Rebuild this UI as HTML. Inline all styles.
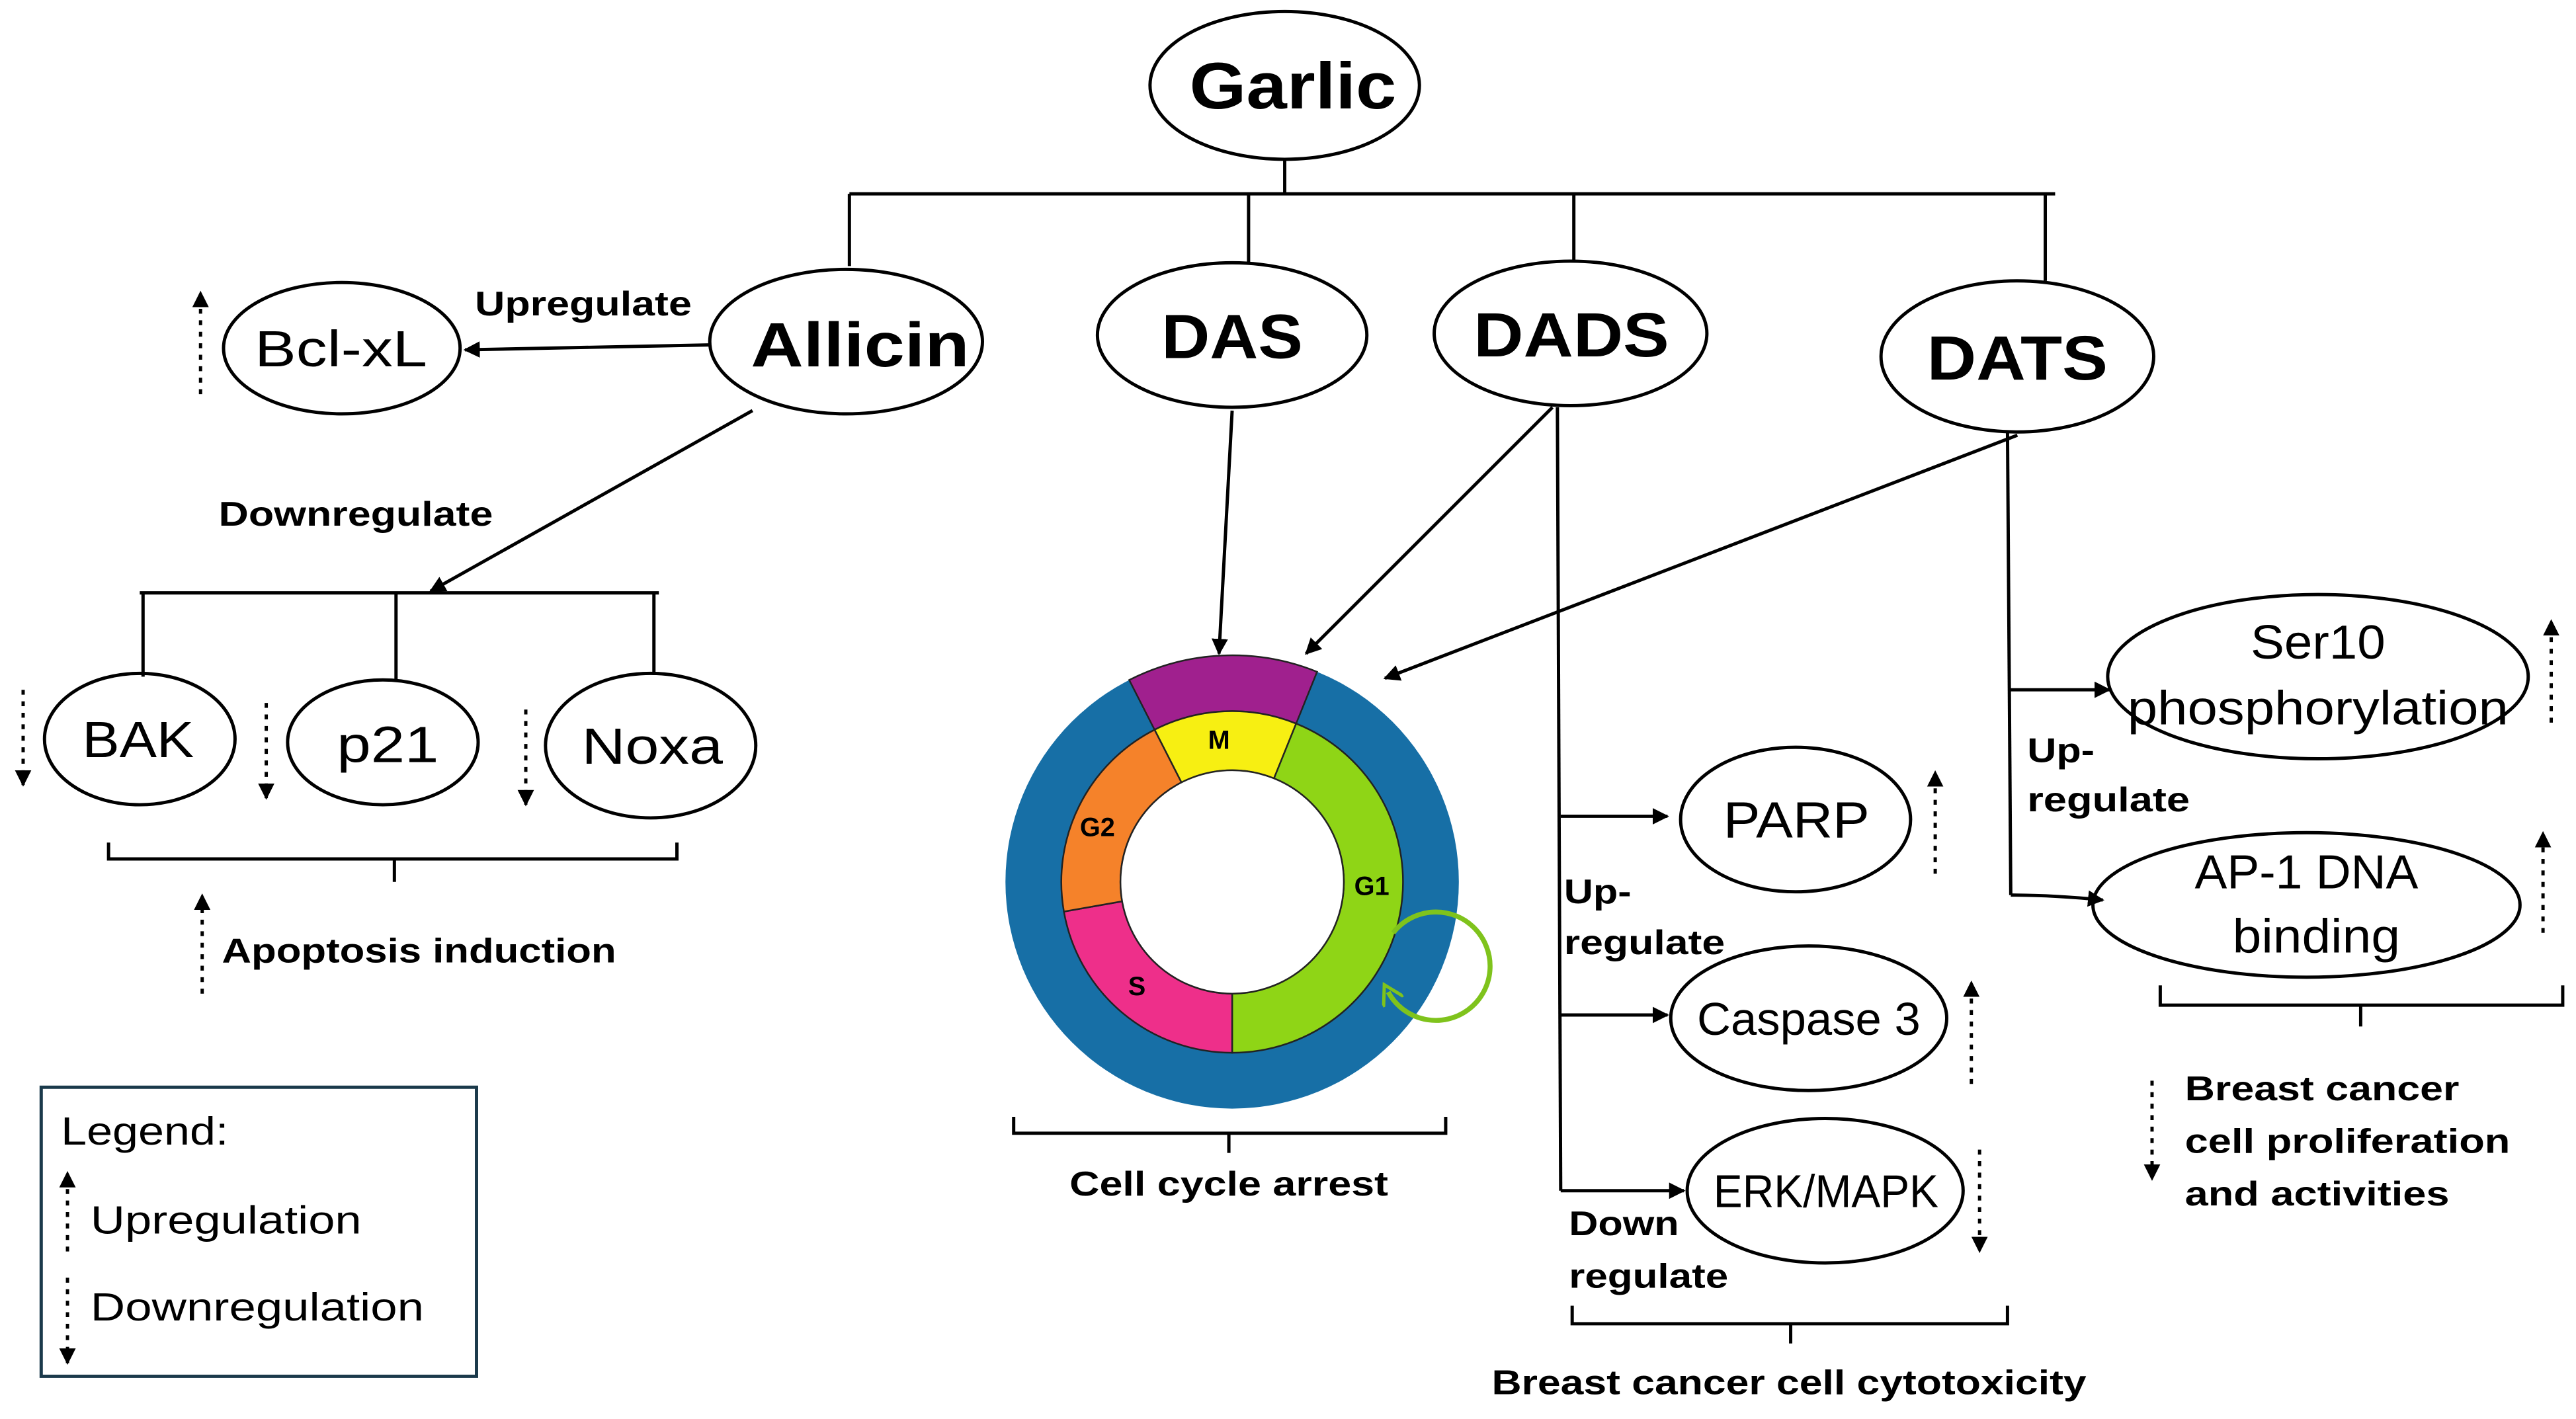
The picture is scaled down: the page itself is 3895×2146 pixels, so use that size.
<!DOCTYPE html>
<html><head><meta charset="utf-8"><style>
html,body{margin:0;padding:0;background:#fff;}
svg{display:block;}
text{font-family:"Liberation Sans",Arial,sans-serif;fill:#000;}
.b{font-weight:bold;}
</style></head><body>
<svg id="s" width="3895" height="2146" viewBox="0 0 1568 864" xmlns="http://www.w3.org/2000/svg">
<defs>
<marker id="a" markerWidth="10" markerHeight="10" refX="9" refY="5" orient="auto" markerUnits="userSpaceOnUse"><path d="M0,0 L10,5 L0,10 z" fill="#000"/></marker>
<marker id="g" markerWidth="14" markerHeight="14" refX="7" refY="7" orient="auto" markerUnits="userSpaceOnUse"><path d="M0,0 L12,7 L0,14" fill="none" stroke="#7fc31c" stroke-width="2"/></marker>
</defs>
<g stroke="#000" stroke-width="2" fill="none">
<line x1="782" y1="97" x2="782" y2="118"/>
<line x1="517" y1="118" x2="1251" y2="118"/>
<line x1="517" y1="118" x2="517" y2="162"/>
<line x1="760" y1="118" x2="760" y2="160"/>
<line x1="958" y1="118" x2="958" y2="159"/>
<line x1="1245" y1="118" x2="1245" y2="171"/>
<ellipse cx="782" cy="52" rx="82" ry="45"/>
<ellipse cx="515" cy="208" rx="83" ry="44"/>
<ellipse cx="750" cy="204" rx="82" ry="44"/>
<ellipse cx="956" cy="203" rx="83" ry="44"/>
<ellipse cx="1228" cy="217" rx="83" ry="46"/>
<ellipse cx="208" cy="212" rx="72" ry="40"/>
<ellipse cx="85" cy="450" rx="58" ry="40"/>
<ellipse cx="233" cy="452" rx="58" ry="38"/>
<ellipse cx="396" cy="454" rx="64" ry="44"/>
<ellipse cx="1093" cy="499" rx="70" ry="44"/>
<ellipse cx="1101" cy="620" rx="84" ry="44"/>
<ellipse cx="1111" cy="725" rx="84" ry="44"/>
<ellipse cx="1411" cy="412" rx="128" ry="50"/>
<ellipse cx="1404" cy="551" rx="130" ry="44"/>
<line x1="432" y1="210" x2="283" y2="213" marker-end="url(#a)"/>
<line x1="458" y1="250" x2="262" y2="360" marker-end="url(#a)"/>
<line x1="85" y1="361" x2="401" y2="361"/>
<line x1="87" y1="361" x2="87" y2="412"/>
<line x1="241" y1="361" x2="241" y2="414"/>
<line x1="398" y1="361" x2="398" y2="411"/>
<path d="M66,513 v10 h174 v14 M240,523 h172 v-10"/>
<path d="M617,680 v10 h131 v12 M748,690 h132 v-10"/>
<path d="M957,795 v11 h133 v12 M1090,806 h132 v-11"/>
<path d="M1315,600 v12 h122 v13 M1437,612 h123 v-12"/>
<line x1="750" y1="250" x2="742" y2="398" marker-end="url(#a)"/>
<line x1="945" y1="248" x2="795" y2="398" marker-end="url(#a)"/>
<line x1="1228" y1="265" x2="843" y2="413" marker-end="url(#a)"/>
<line x1="948" y1="248" x2="950" y2="725"/>
<line x1="950" y1="497" x2="1015" y2="497" marker-end="url(#a)"/>
<line x1="950" y1="618" x2="1015" y2="618" marker-end="url(#a)"/>
<line x1="950" y1="725" x2="1025" y2="725" marker-end="url(#a)"/>
<line x1="1222" y1="262" x2="1224" y2="545"/>
<line x1="1223" y1="420" x2="1284" y2="420" marker-end="url(#a)"/>
<path d="M1224,545 Q1250,545 1280,548" marker-end="url(#a)"/>
<rect x="25" y="662" width="265" height="176" stroke="#1b3a4b"/>
</g>
<g stroke="#000" stroke-width="2" stroke-dasharray="3,4" fill="none">
<line x1="122" y1="240" x2="122" y2="178" marker-end="url(#a)"/>
<line x1="14" y1="420" x2="14" y2="478" marker-end="url(#a)"/>
<line x1="162" y1="428" x2="162" y2="486" marker-end="url(#a)"/>
<line x1="320" y1="432" x2="320" y2="490" marker-end="url(#a)"/>
<line x1="123" y1="605" x2="123" y2="545" marker-end="url(#a)"/>
<line x1="41" y1="762" x2="41" y2="714" marker-end="url(#a)"/>
<line x1="41" y1="778" x2="41" y2="830" marker-end="url(#a)"/>
<line x1="1178" y1="532" x2="1178" y2="470" marker-end="url(#a)"/>
<line x1="1200" y1="660" x2="1200" y2="598" marker-end="url(#a)"/>
<line x1="1205" y1="700" x2="1205" y2="762" marker-end="url(#a)"/>
<line x1="1553" y1="440" x2="1553" y2="378" marker-end="url(#a)"/>
<line x1="1548" y1="568" x2="1548" y2="507" marker-end="url(#a)"/>
<line x1="1310" y1="658" x2="1310" y2="718" marker-end="url(#a)"/>
</g>
<g id="wheel"></g>
<g class="b" lengthAdjust="spacingAndGlyphs">
<text x="724" y="66" font-size="40" textLength="126" lengthAdjust="spacingAndGlyphs">Garlic</text>
<text x="457" y="223" font-size="38" textLength="133" lengthAdjust="spacingAndGlyphs">Allicin</text>
<text x="707" y="218" font-size="38" textLength="86" lengthAdjust="spacingAndGlyphs">DAS</text>
<text x="897" y="217" font-size="38" textLength="119" lengthAdjust="spacingAndGlyphs">DADS</text>
<text x="1173" y="231" font-size="38" textLength="110" lengthAdjust="spacingAndGlyphs">DATS</text>
<text x="289" y="192" font-size="21" textLength="132" lengthAdjust="spacingAndGlyphs">Upregulate</text>
<text x="133" y="320" font-size="21" textLength="167" lengthAdjust="spacingAndGlyphs">Downregulate</text>
<text x="135" y="586" font-size="21" textLength="240" lengthAdjust="spacingAndGlyphs">Apoptosis induction</text>
<text x="651" y="728" font-size="21" textLength="194" lengthAdjust="spacingAndGlyphs">Cell cycle arrest</text>
<text x="952" y="550" font-size="21" textLength="41" lengthAdjust="spacingAndGlyphs">Up-</text>
<text x="952" y="581" font-size="21" textLength="98" lengthAdjust="spacingAndGlyphs">regulate</text>
<text x="955" y="752" font-size="21" textLength="67" lengthAdjust="spacingAndGlyphs">Down</text>
<text x="955" y="784" font-size="21" textLength="97" lengthAdjust="spacingAndGlyphs">regulate</text>
<text x="908" y="849" font-size="21" textLength="362" lengthAdjust="spacingAndGlyphs">Breast cancer cell cytotoxicity</text>
<text x="1234" y="464" font-size="21" textLength="41" lengthAdjust="spacingAndGlyphs">Up-</text>
<text x="1234" y="494" font-size="21" textLength="99" lengthAdjust="spacingAndGlyphs">regulate</text>
<text x="1330" y="670" font-size="21" textLength="167" lengthAdjust="spacingAndGlyphs">Breast cancer</text>
<text x="1330" y="702" font-size="21" textLength="198" lengthAdjust="spacingAndGlyphs">cell proliferation</text>
<text x="1330" y="734" font-size="21" textLength="161" lengthAdjust="spacingAndGlyphs">and activities</text>
</g>
<g font-size="31">
<text x="155" y="223" textLength="105" lengthAdjust="spacingAndGlyphs">Bcl-xL</text>
<text x="50" y="461" textLength="68" lengthAdjust="spacingAndGlyphs">BAK</text>
<text x="205" y="464" textLength="62" lengthAdjust="spacingAndGlyphs">p21</text>
<text x="354" y="465" textLength="86" lengthAdjust="spacingAndGlyphs">Noxa</text>
<text x="1049" y="510" textLength="89" lengthAdjust="spacingAndGlyphs">PARP</text>
<text x="1033" y="630" font-size="28" textLength="136" lengthAdjust="spacingAndGlyphs">Caspase 3</text>
<text x="1043" y="735" font-size="28" textLength="137" lengthAdjust="spacingAndGlyphs">ERK/MAPK</text>
<text x="1370" y="401" font-size="29" textLength="82" lengthAdjust="spacingAndGlyphs">Ser10</text>
<text x="1295" y="441" font-size="29" textLength="232" lengthAdjust="spacingAndGlyphs">phosphorylation</text>
<text x="1336" y="541" font-size="29" textLength="136" lengthAdjust="spacingAndGlyphs">AP-1 DNA</text>
<text x="1359" y="580" font-size="29" textLength="102" lengthAdjust="spacingAndGlyphs">binding</text>
</g>
<text x="37" y="697" font-size="24" textLength="102" lengthAdjust="spacingAndGlyphs">Legend:</text>
<text x="55" y="751" font-size="24" textLength="165" lengthAdjust="spacingAndGlyphs">Upregulation</text>
<text x="55" y="804" font-size="24" textLength="203" lengthAdjust="spacingAndGlyphs">Downregulation</text>
</svg>
<script>
(function(){
var cx=750,cy=537,ns="http://www.w3.org/2000/svg",g=document.getElementById("wheel");
function pt(r,a){var t=a*Math.PI/180;return [cx+r*Math.sin(t),cy-r*Math.cos(t)];}
function seg(r1,r2,a1,a2,fill){
 var p1=pt(r2,a1),p2=pt(r2,a2),p3=pt(r1,a2),p4=pt(r1,a1),l=(a2-a1)>180?1:0;
 var d="M"+p1+" A"+r2+","+r2+" 0 "+l+" 1 "+p2+" L"+p3+" A"+r1+","+r1+" 0 "+l+" 0 "+p4+" Z";
 var e=document.createElementNS(ns,"path");e.setAttribute("d",d);e.setAttribute("fill",fill);e.setAttribute("stroke","#222");e.setAttribute("stroke-width","1");g.appendChild(e);}
var c=document.createElementNS(ns,"circle");c.setAttribute("cx",cx);c.setAttribute("cy",cy);c.setAttribute("r",138);c.setAttribute("fill","#176fa6");g.appendChild(c);
seg(104,138,-27,22,"#a0208e");
seg(68,104,-27,22,"#f7ef12");
seg(68,104,22,180,"#8fd516");
seg(68,104,180,260,"#ee2f8a");
seg(68,104,260,333,"#f5822a");
var w=document.createElementNS(ns,"circle");w.setAttribute("cx",cx);w.setAttribute("cy",cy);w.setAttribute("r",68);w.setAttribute("fill","#fff");w.setAttribute("stroke","#222");g.appendChild(w);
var a=document.createElementNS(ns,"path");a.setAttribute("d","M848,568 A33,33 0 1 1 845,604");a.setAttribute("fill","none");a.setAttribute("stroke","#7fc31c");a.setAttribute("stroke-width","3");a.setAttribute("marker-end","url(#g)");g.appendChild(a);
[["M",742,456],["G2",668,509],["G1",835,545],["S",692,606]].forEach(function(l){var t=document.createElementNS(ns,"text");t.setAttribute("x",l[1]);t.setAttribute("y",l[2]);t.setAttribute("font-size","16");t.setAttribute("font-weight","bold");t.setAttribute("text-anchor","middle");t.textContent=l[0];g.appendChild(t);});
})();
</script>
</body></html>
